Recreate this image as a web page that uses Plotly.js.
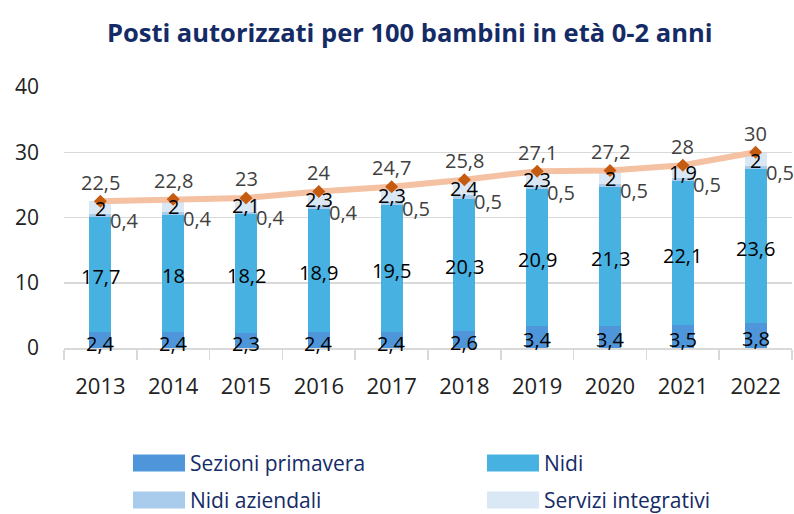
<!DOCTYPE html>
<html><head><meta charset="utf-8">
<script src="https://cdn.plot.ly/plotly-3.0.1.min.js"></script>
<style>body{margin:0}#c{width:794px;height:514px}</style>
</head><body><div id="c"></div>
<script>
const years = ['2013','2014','2015','2016','2017','2018','2019','2020','2021','2022'];
const primavera = [2.4,2.4,2.3,2.4,2.4,2.6,3.4,3.4,3.5,3.8];
const nidi = [17.7,18,18.2,18.9,19.5,20.3,20.9,21.3,22.1,23.6];
const aziendali = [0.4,0.4,0.4,0.4,0.5,0.5,0.5,0.5,0.5,0.5];
const integrativi = [2,2,2.1,2.3,2.3,2.4,2.3,2,1.9,2];
const totale = [22.5,22.8,23,24,24.7,25.8,27.1,27.2,28,30];
const names = ['Sezioni primavera','Nidi','Nidi aziendali','Servizi integrativi'];

const fmt = v => String(v).replace('.', ',');
const F = '"Open Sans", "Noto Sans", sans-serif';
const colors = ['#4E95D9','#47B1E1','#A9CCEC','#DAE8F5'];
const series = [primavera, nidi, aziendali, integrativi];
const NAVY = '#142B66';

const traces = series.map((s,i) => ({
  type:'bar', x: years, y: s, name: names[i], width: 0.3, showlegend:false,
  marker:{color: colors[i]}, hoverinfo:'skip'
}));
traces.push({
  type:'scatter', mode:'lines+markers', x: years, y: totale, showlegend:false,
  line:{color:'#F5C1A3', width:6}, marker:{symbol:'diamond', size:10, color:'#C55A11'},
  hoverinfo:'skip'
});

const ann = [];
years.forEach((yr,k) => {
  const b1 = primavera[k], b2 = b1 + nidi[k], b3 = b2 + aziendali[k], b4 = b3 + integrativi[k];
  const base = {x: k, xref:'x', yref:'y', showarrow:false, font:{family:F, size:20, color:'#000'}};
  ann.push(Object.assign({}, base, {y:b1/2, yshift:-3, text:fmt(primavera[k])}));
  ann.push(Object.assign({}, base, {y:(b1+b2)/2, yshift:-2, text:fmt(nidi[k])}));
  ann.push(Object.assign({}, base, {y:(b2+b3)/2, yshift:-5, text:fmt(aziendali[k]), xanchor:'left', xshift:8, font:{family:F, size:20, color:'#404040'}}));
  ann.push(Object.assign({}, base, {y:(b3+b4)/2, yshift:-1, text:fmt(integrativi[k])}));
  ann.push(Object.assign({}, base, {y:totale[k], yshift:19, text:fmt(totale[k]), font:{family:F, size:20, color:'#404040'}}));
});

// custom legend (pixel positions converted to paper coords of plot area)
const L = 64, W = 728, T = 87, H = 261;
const px = v => (v - L) / W, py = v => (T + H - v) / H;
const shapes = [];
const legPos = [[133,463],[487,463],[133,500],[487,500]];
names.forEach((n,i) => {
  const [lx, ly] = legPos[i];
  shapes.push({type:'rect', xref:'paper', yref:'paper', x0:px(lx), x1:px(lx+52), y0:py(ly-8.5), y1:py(ly+8.5),
    fillcolor: colors[i], line:{width:0}});
  ann.push({xref:'paper', yref:'paper', x:px(lx+55), y:py(ly), xanchor:'left', yanchor:'middle',
    showarrow:false, text:n, font:{family:F, size:21, color:NAVY}});
});

const layout = {
  width:794, height:514, barmode:'stack', bargap:0.7,
  margin:{l:64, r:2, t:87, b:166},
  paper_bgcolor:'#fff', plot_bgcolor:'#fff', showlegend:false,
  title:{text:'<b>Posti autorizzati per 100 bambini in età 0-2 anni</b>', x:0.516, xanchor:'center',
    y:0.936, yanchor:'middle', font:{family:F, size:25.5, color:NAVY}},
  xaxis:{type:'category', range:[-0.5, 9.5], showgrid:false, showline:true, linecolor:'#d9d9d9', linewidth:1.5,
    ticks:'outside', tickson:'boundaries', ticklen:10, tickcolor:'#d9d9d9', tickwidth:1.5,
    tickfont:{family:F, size:22, color:'#222'}, ticklabelstandoff:18},
  yaxis:{range:[0,40], dtick:10, showgrid:true, gridcolor:'#d9d9d9', gridwidth:1.5, zeroline:false,
    showline:false, tickfont:{family:F, size:21, color:'#222'}, ticklabelstandoff:24},
  annotations: ann, shapes: shapes
};
Plotly.newPlot('c', traces, layout, {displayModeBar:false, staticPlot:true});
</script></body></html>
